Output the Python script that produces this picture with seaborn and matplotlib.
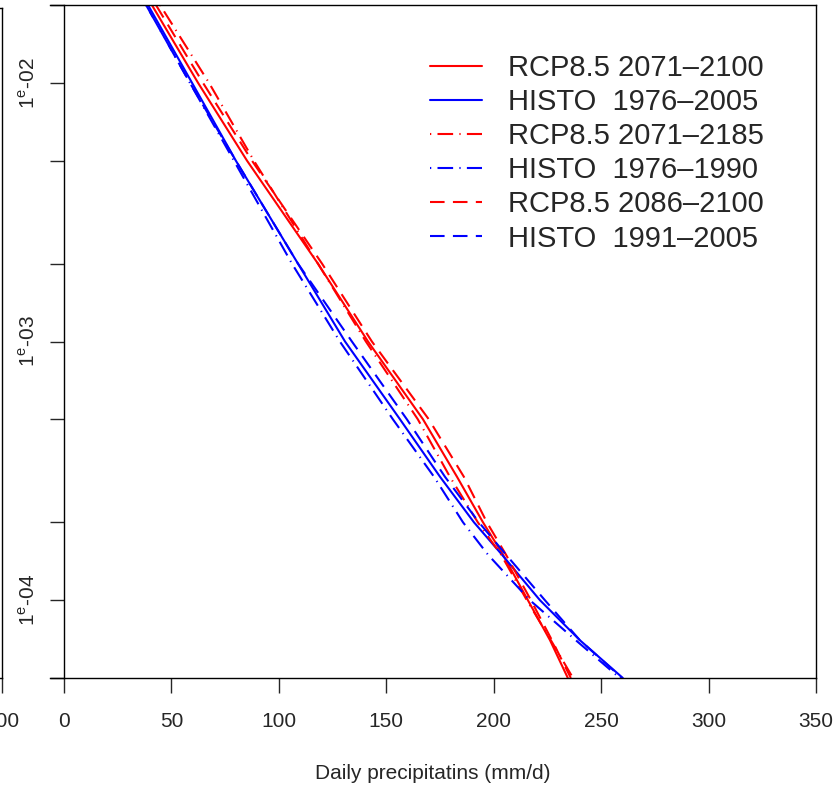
import matplotlib
matplotlib.use("Agg")
import matplotlib.pyplot as plt
import seaborn as sns
import numpy as np
import pandas as pd

# exceedance probability (y axis) and daily precipitation (mm/d)
prob = [2e-2, 1e-2, 5e-3, 2e-3, 1e-3, 5e-4, 3e-4, 2e-4, 1.5e-4, 1e-4, 7e-5, 5e-5]

rcp_2071_2100 = [40.9, 62.4, 85.2, 118.2, 141.5, 167.1, 182.9, 195.0, 204.3, 215.9, 226.2, 234.5]
histo_1976_2005 = [39.1, 59.6, 80.0, 108.9, 130.8, 156.4, 175.0, 190.8, 203.8, 221.5, 240.1, 260.1]
rcp_2071_2185 = [44.7, 67.5, 88.4, 118.2, 140.5, 164.7, 179.6, 192.6, 203.4, 215.4, 226.6, 236.9]
histo_1976_1990 = [38.2, 58.6, 79.1, 106.1, 128.4, 153.1, 172.2, 185.7, 197.3, 216.8, 238.2, 258.7]
rcp_2086_2100 = [42.8, 64.7, 87.5, 120.1, 143.3, 169.8, 186.1, 196.8, 205.7, 217.3, 227.1, 235.9]
histo_1991_2005 = [38.2, 58.6, 80.0, 108.9, 134.0, 159.6, 177.3, 193.1, 205.7, 223.8, 240.1, 259.7]

labels = ["RCP8.5 2071\u20132100", "HISTO  1976\u20132005",
          "RCP8.5 2071\u20132185", "HISTO  1976\u20131990",
          "RCP8.5 2086\u20132100", "HISTO  1991\u20132005"]
values = [rcp_2071_2100, histo_1976_2005, rcp_2071_2185,
          histo_1976_1990, rcp_2086_2100, histo_1991_2005]
colors = ["#FF0000", "#0000FF"] * 3
dotdash = (0, (0.6, 3, 7.5, 3))
dashed = (0, (7, 4))
styles = ["-", "-", dotdash, dotdash, dashed, dashed]

xticks = [0, 50, 100, 150, 200, 250, 300, 350]
yticks = [5e-5, 1e-4, 2e-4, 5e-4, 1e-3, 2e-3, 5e-3, 1e-2, 2e-2]
ytick_labels = ["", r"1$^{\rm e}$-04", "", "", r"1$^{\rm e}$-03", "", "",
                r"1$^{\rm e}$-02", ""]

sns.set_style("ticks")
plt.rcParams["font.family"] = ["Liberation Sans", "DejaVu Sans"]
plt.rcParams["mathtext.fontset"] = "custom"
plt.rcParams["mathtext.rm"] = "Liberation Sans"

W, H = 840, 785
fig = plt.figure(figsize=(W / 100, H / 100), dpi=100)

# bit of the neighbouring panel that is cut off on the left
ax0 = fig.add_axes([1.5 / W - 0.5, 107 / H, 0.5, 670 / H])
ax0.set_xlim(0, 300)
ax0.set_xticks([300])
ax0.set_yticks([])
ax0.spines["left"].set_visible(False)
for s in ax0.spines.values():
    s.set_linewidth(1.0)
    s.set_color("black")
ax0.tick_params(axis="x", length=10.8, width=1, labelsize=15, pad=13.4)

ax = fig.add_axes([50 / W, 107 / H, 766 / W, 673 / H])
for lab, v, c, ls in zip(labels, values, colors, styles):
    df = pd.DataFrame({"x": v, "p": prob})
    sns.lineplot(data=df, x="x", y="p", ax=ax, color=c, linestyle=ls,
                 linewidth=1.5, label=lab, sort=False)

ax.set_yscale("log")
ax.set_xlim(-6.51, 350)
ax.set_ylim(5e-5, 2e-2)
ax.yaxis.set_minor_locator(matplotlib.ticker.NullLocator())
ax.set_yticks(yticks)
ax.set_yticklabels(ytick_labels)
ax.set_xticks(xticks)
ax.set_xticklabels([str(t) for t in xticks])
ax.spines["left"].set_position(("data", 0))
for s in ax.spines.values():
    s.set_linewidth(1.0)
    s.set_color("black")
ax.tick_params(axis="x", length=10.8, width=1, labelsize=15, pad=13.4)
ax.tick_params(axis="y", length=10, width=1, labelsize=15, pad=8.4,
               labelrotation=90)
for t in ax.get_yticklabels():
    t.set_va("center")
ax.set_xlabel("Daily precipitatins (mm/d)", fontsize=15, labelpad=24)
ax.set_ylabel("")

ax.legend(loc="upper left", bbox_to_anchor=(430 / W, 1 - 54 / H),
          bbox_transform=fig.transFigure, frameon=False, fontsize=21,
          handlelength=1.78, handletextpad=0.89, labelspacing=0.21,
          borderpad=0, borderaxespad=0)

fig.savefig("out.png", dpi=100)
